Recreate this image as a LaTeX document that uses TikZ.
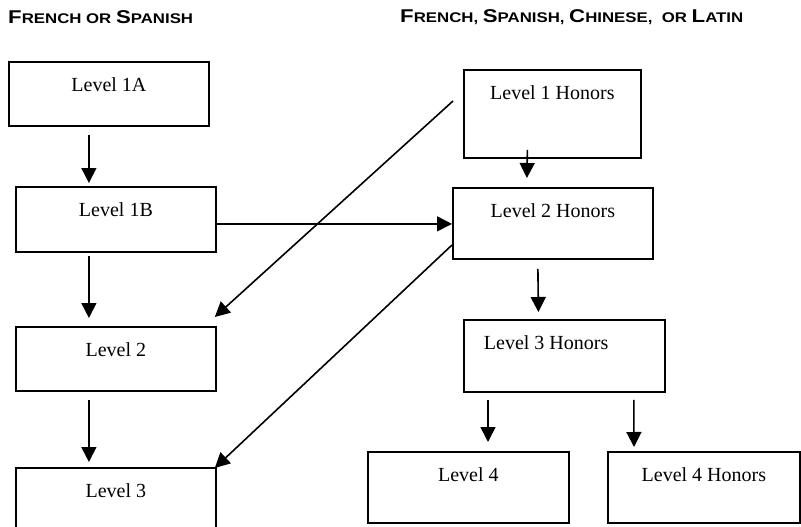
\documentclass[tikz,border=0pt]{standalone}
\usepackage{fontspec}
\setmainfont{Liberation Serif}
\newfontfamily\headfont{Liberation Sans}
\usetikzlibrary{positioning}
\usetikzlibrary{calc}
\usetikzlibrary{arrows.meta}

\newcommand{\initcap}[1]{{\fontsize{18.5}{18}\selectfont #1}}
\tikzset{
    levelbox/.style = {draw, line width=1.8pt, anchor=north west, font=\fontsize{20}{22}\selectfont,
                       text height=14pt, text depth=#1, inner ysep=16pt, inner xsep=0pt},
    heading/.style  = {anchor=west, inner sep=0pt, xscale=1.2, font=\headfont\bfseries\fontsize{14}{15}\selectfont},
    flow/.style     = {line width=1.6pt, -{Triangle[length=15pt,width=15pt]}}
}

\begin{document}
\begin{tikzpicture}[x=1pt, y=-1pt]
    \path[use as bounding box, clip] (0,0) rectangle (801,527);
    \fill[white] (0,0) rectangle (801,527);

    % headings
    \node (headA) [heading] at (8,17)   {\initcap{F}RENCH OR \initcap{S}PANISH};
    \node (headB) [heading] at (400,17) {\initcap{F}RENCH, \initcap{S}PANISH, \initcap{C}HINESE, \ OR \initcap{L}ATIN};

    % left column
    \node (l1a) [levelbox=18pt, minimum width=200pt] at (8,61)   {Level 1A};
    \node (l1b) [levelbox=19pt, minimum width=200pt] at (15,186) {Level 1B};
    \node (l2)  [levelbox=18pt, minimum width=200pt] at (15,326) {Level 2};
    \node (l3)  [levelbox=30pt, minimum width=200pt] at (15,467) {Level 3};

    % right column
    \node (h1)  [levelbox=42pt, minimum width=177pt] at (463,69)  {Level 1 Honors};
    \node (h2)  [levelbox=25pt, minimum width=200pt] at (452,187) {Level 2 Honors};
    \node (h3)  [levelbox=26pt, inner xsep=20pt] at (463,319) {\makebox[161pt][l]{Level 3 Honors}};
    \node (l4)  [levelbox=25pt, minimum width=201pt] at (367,451) {Level 4};
    \node (h4)  [levelbox=25pt, minimum width=192pt] at (607,451) {Level 4 Honors};

    % arrows
    \draw[flow] ([xshift=-20pt,yshift=-8pt]l1a.south) -- ([xshift=-27pt,yshift=3pt]l1b.north);
    \draw[flow] ([xshift=-27pt,yshift=-3pt]l1b.south) -- ([xshift=-27pt,yshift=8pt]l2.north);
    \draw[flow] ([xshift=-27pt,yshift=-8pt]l2.south)  -- ([xshift=-27pt,yshift=5pt]l3.north);
    \draw[flow] ([yshift=-4.5pt]l1b.east) -- ([yshift=-4.5pt]l1b.east -| h2.west);
    \draw[flow] ([xshift=-10pt,yshift=-32pt]h1.north west) -- ([xshift=-2pt,yshift=9pt]l2.north east);
    \draw[flow] ([yshift=-58pt]h2.north west) -- ([xshift=-2pt,yshift=-1pt]l3.north east);
    \draw[flow] ([xshift=-25pt,yshift=9pt]h1.south) -- ([xshift=-26pt,yshift=9pt]h2.north);
    \draw[flow] ([xshift=-15pt,yshift=-9pt]h2.south) -- ([xshift=-26pt,yshift=7pt]h3.north);
    \draw[flow] ([xshift=25pt,yshift=-7pt]h3.south west) -- ([xshift=121pt,yshift=9pt]l4.north west);
    \draw[flow] ([xshift=-32pt,yshift=-7pt]h3.south east) -- ([xshift=27pt,yshift=4pt]h4.north west);
\end{tikzpicture}
\end{document}
